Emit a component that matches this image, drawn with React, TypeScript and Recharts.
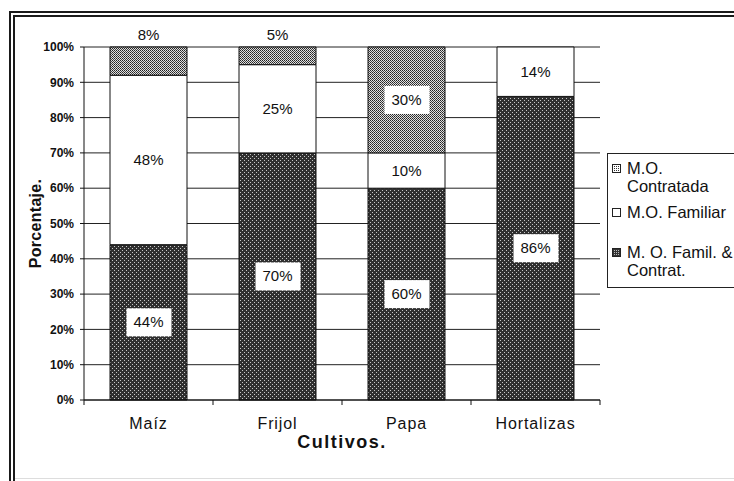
import React from "react";
import {
    BarChart,
    Bar,
    XAxis,
    YAxis,
    CartesianGrid,
    LabelList,
} from "recharts";

const cultivos = ["Maíz", "Frijol", "Papa", "Hortalizas"];
const familContrat = [44, 70, 60, 86];
const familiar = [48, 25, 10, 14];
const contratada = [8, 5, 30, 0];
const yTicks = [0, 10, 20, 30, 40, 50, 60, 70, 80, 90, 100];

const data = cultivos.map((c, i) => ({
    cultivo: c,
    famCon: familContrat[i],
    familiar: familiar[i],
    contratada: contratada[i],
}));

const FONT = "'Liberation Sans', Arial, sans-serif";

// etiqueta con caja blanca (segmentos con trama)
const BoxLabel = (props: any) => {
    const { x, y, width, height, value } = props;
    if (!value) return null;
    const cx = x + width / 2;
    // los valores chicos de arriba (<10%) van por encima del grafico
    if (value < 10) {
        return (
            <text x={cx} y={y - 7} textAnchor="middle" fontSize={15} fontFamily={FONT} fill="#111">
                {value}%
            </text>
        );
    }
    const cy = y + height / 2;
    return (
        <g>
            <rect x={cx - 22} y={cy - 14} width={45} height={28} fill="#fff" />
            <text x={cx} y={cy + 5} textAnchor="middle" fontSize={15} fontFamily={FONT} fill="#111">
                {value}%
            </text>
        </g>
    );
};

const PlainLabel = (props: any) => {
    const { x, y, width, height, value } = props;
    if (!value) return null;
    return (
        <text x={x + width / 2} y={y + height / 2 + 5} textAnchor="middle" fontSize={15} fontFamily={FONT} fill="#111">
            {value}%
        </text>
    );
};

const CatTick = (props: any) => {
    const { x, y, payload, index } = props;
    const off = payload.offset || 0;
    return (
        <g>
            <line x1={x - off} y1={y - 8} x2={x - off} y2={y - 3} stroke="#111" />
            {index === cultivos.length - 1 && (
                <line x1={x + off} y1={y - 8} x2={x + off} y2={y - 3} stroke="#111" />
            )}
            <text x={x} y={y + 21} textAnchor="middle" fontSize={16} letterSpacing={0.9} fontFamily={FONT} fill="#111">
                {payload.value}
            </text>
        </g>
    );
};

const Swatch = ({ fill }: { fill: string }) => (
    <svg width={9} height={9} style={{ position: "absolute", left: 0, top: 5 }}>
        <defs>
            <pattern id={"lg-" + fill} width={2} height={2} patternUnits="userSpaceOnUse">
                <rect width={2} height={2} fill={fill === "dark" ? "#333" : "#fff"} />
                <rect width={1} height={1} fill={fill === "dark" ? "#bbb" : "#333"} />
            </pattern>
        </defs>
        <rect x={0.5} y={0.5} width={8} height={8} fill={fill === "white" ? "#fff" : `url(#lg-${fill})`} stroke="#222" />
    </svg>
);

const legendItems = [
    { fill: "light", lines: ["M.O.", "Contratada"], top: 5 },
    { fill: "white", lines: ["M.O. Familiar"], top: 49 },
    { fill: "dark", lines: ["M. O. Famil. &", "Contrat."], top: 89 },
];

export default function App() {
    return (
        <div style={{ position: "absolute", left: 0, top: 0, width: 734, height: 481, background: "#fff", overflow: "hidden" }}>
            {/* marco doble (solo arriba e izquierda se ven) */}
            <div
                style={{
                    position: "absolute",
                    left: 9,
                    top: 11,
                    width: 725,
                    height: 470,
                    borderTop: "6px double #1a1a1a",
                    borderLeft: "6px double #1a1a1a",
                    boxSizing: "border-box",
                }}
            />
            <div style={{ position: "absolute", left: 15, top: 478, width: 719, height: 1, background: "#ddd" }} />
            <BarChart
                width={734}
                height={481}
                data={data}
                barSize={77}
                margin={{ top: 47, right: 134, left: 24, bottom: 0 }}
                style={{ position: "absolute", left: 0, top: 0 }}
            >
                <defs>
                    <pattern id="dark" width={4} height={4} patternUnits="userSpaceOnUse">
                        <rect width={4} height={4} fill="#303030" />
                        <rect x={0} y={0} width={1} height={1} fill="#c8c8c8" />
                        <rect x={2} y={2} width={1} height={1} fill="#c8c8c8" />
                    </pattern>
                    <pattern id="light" width={2} height={2} patternUnits="userSpaceOnUse">
                        <rect width={2} height={2} fill="#e0e0e0" />
                        <rect x={0} y={0} width={1} height={1} fill="#222" />
                        <rect x={1} y={1} width={1} height={1} fill="#444" />
                    </pattern>
                </defs>
                <CartesianGrid vertical={false} stroke="#222" />
                <XAxis
                    dataKey="cultivo"
                    stroke="#111"
                    tickLine={false}
                    tick={<CatTick />}
                    height={81}
                    label={{ value: "Cultivos.", position: "insideTop", offset: 35, fontSize: 18, letterSpacing: 1.5, fontWeight: "bold", fontFamily: FONT, fill: "#111" }}
                />
                <YAxis
                    domain={[0, 100]}
                    ticks={yTicks}
                    interval={0}
                    tickFormatter={(v) => v + "%"}
                    width={60}
                    stroke="#111"
                    tickSize={4}
                    tickMargin={6}
                    tick={{ fontSize: 12, fontWeight: "bold", fontFamily: FONT, fill: "#111" }}
                    label={{ value: "Porcentaje.", angle: -90, position: "insideLeft", offset: 11, fontSize: 16, letterSpacing: 0.3, fontWeight: "bold", fontFamily: FONT, fill: "#111", style: { textAnchor: "middle" } }}
                />
                <YAxis yAxisId="r" orientation="right" width={0} tick={false} stroke="#111" domain={[0, 100]} />
                <Bar dataKey="famCon" stackId="a" fill="url(#dark)" stroke="#111" isAnimationActive={false}>
                    <LabelList dataKey="famCon" content={<BoxLabel />} />
                </Bar>
                <Bar dataKey="familiar" stackId="a" fill="#fff" stroke="#111" isAnimationActive={false}>
                    <LabelList dataKey="familiar" content={<PlainLabel />} />
                </Bar>
                <Bar dataKey="contratada" stackId="a" fill="url(#light)" stroke="#111" isAnimationActive={false}>
                    <LabelList dataKey="contratada" content={<BoxLabel />} />
                </Bar>
            </BarChart>
            {/* leyenda */}
            <div
                style={{
                    position: "absolute",
                    left: 607,
                    top: 153,
                    width: 140,
                    height: 133,
                    border: "1px solid #222",
                    background: "#fff",
                    fontFamily: FONT,
                    fontSize: 16.5,
                    color: "#111",
                }}
            >
                {legendItems.map((it) => (
                    <div key={it.lines[0]} style={{ position: "absolute", left: 4, top: it.top, paddingLeft: 15, lineHeight: "18px", whiteSpace: "nowrap" }}>
                        <Swatch fill={it.fill} />
                        {it.lines.map((l, i) => (
                            <div key={i}>{l}</div>
                        ))}
                    </div>
                ))}
            </div>
        </div>
    );
}
